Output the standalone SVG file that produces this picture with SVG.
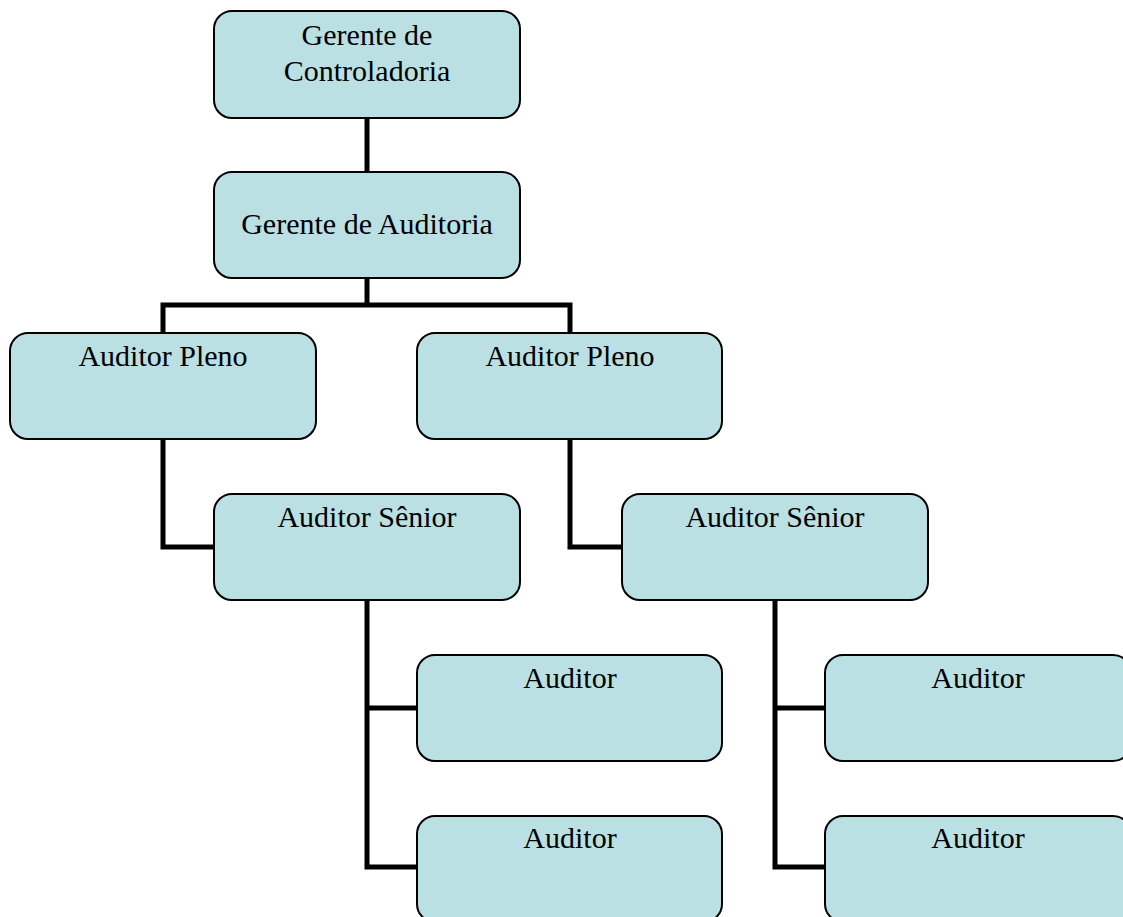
<svg xmlns="http://www.w3.org/2000/svg" width="1123" height="917" viewBox="0 0 1123 917">
<style>
.box{fill:#bbe0e3;stroke:#000;stroke-width:2}
.t{font-family:"Liberation Serif","Times New Roman",serif;font-size:30px;fill:#000;text-anchor:middle}
.c{fill:none;stroke:#000;stroke-width:5;stroke-linejoin:miter}
</style>
<rect width="1123" height="917" fill="#fff"/>
<g id="connectors">
<path class="c" d="M367 118V172"/>
<path class="c" d="M367 278V305"/>
<path class="c" d="M163 332V305H570V332"/>
<path class="c" d="M163 439V547H213"/>
<path class="c" d="M570 439V547H622"/>
<path class="c" d="M367 600V867H417M367 708H417"/>
<path class="c" d="M775 600V867H825M775 708H825"/>
</g>
<g id="n1"><rect class="box" x="214" y="11" width="306" height="107" rx="18"/><text class="t" x="367" y="45">Gerente de</text><text class="t" x="367" y="81">Controladoria</text></g>
<g id="n2"><rect class="box" x="214" y="172" width="306" height="106" rx="18"/><text class="t" x="367" y="234">Gerente de Auditoria</text></g>
<g id="n3"><rect class="box" x="10" y="333" width="306" height="106" rx="18"/><text class="t" x="163" y="366">Auditor Pleno</text></g>
<g id="n4"><rect class="box" x="417" y="333" width="305" height="106" rx="18"/><text class="t" x="570" y="366">Auditor Pleno</text></g>
<g id="n5"><rect class="box" x="214" y="494" width="306" height="106" rx="18"/><text class="t" x="367" y="527">Auditor Sênior</text></g>
<g id="n6"><rect class="box" x="622" y="494" width="306" height="106" rx="18"/><text class="t" x="775" y="527">Auditor Sênior</text></g>
<g id="n7"><rect class="box" x="417" y="655" width="305" height="106" rx="18"/><text class="t" x="570" y="688">Auditor</text></g>
<g id="n8"><rect class="box" x="417" y="816" width="305" height="106" rx="18"/><text class="t" x="570" y="848">Auditor</text></g>
<g id="n9"><rect class="box" x="825" y="655" width="306" height="106" rx="18"/><text class="t" x="978" y="688">Auditor</text></g>
<g id="n10"><rect class="box" x="825" y="816" width="306" height="106" rx="18"/><text class="t" x="978" y="848">Auditor</text></g>
</svg>
